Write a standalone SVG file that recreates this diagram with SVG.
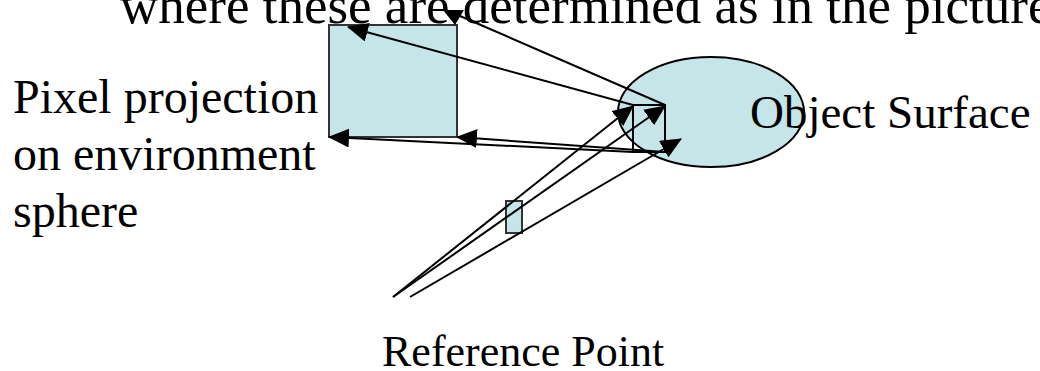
<svg xmlns="http://www.w3.org/2000/svg" width="1040" height="371" viewBox="0 0 1040 371">
<style>
.t{font-family:"Liberation Serif","Times New Roman",serif;font-size:47px;fill:#000}
.shape{fill:#C5E5E9;stroke:#333;stroke-width:2}
.c{stroke:#000;stroke-width:2;fill:none;marker-end:url(#ah)}
.p{stroke:#000;stroke-width:2;fill:none}
</style>
<defs>
<marker id="ah" viewBox="0 0 21 19" refX="20" refY="9.5" markerWidth="21" markerHeight="19" markerUnits="userSpaceOnUse" orient="auto">
<path d="M0,0 L21,9.5 L0,19 Z" fill="#000"/>
</marker>
</defs>
<rect width="1040" height="371" fill="#fff"/>
<g id="title"><text class="t" x="120" y="23" style="font-size:53px">where these are determined as in the picture</text></g>
<g id="object-surface"><ellipse class="shape" cx="711" cy="112" rx="93" ry="55" style="stroke:#000"/><text class="t" x="750" y="128">Object Surface</text></g>
<g id="surface-patch"><rect x="633" y="105" width="32" height="47" fill="none" stroke="#000" stroke-width="2"/></g>
<g id="pixel-projection"><rect class="shape" x="329" y="25" width="128" height="112"/></g>
<g id="pixel-label"><text class="t" x="13" y="113" style="font-size:48px">Pixel projection</text><text class="t" x="13" y="170" style="font-size:48px">on environment</text><text class="t" x="13" y="227" style="font-size:48px">sphere</text></g>
<g id="pixel"><rect class="shape" x="506" y="201" width="16" height="32"/></g>
<g id="reference-label"><text class="t" x="382" y="366" style="font-size:44px">Reference Point</text></g>
<g id="connectors">
<line class="c" x1="393" y1="297" x2="633" y2="106"/>
<line class="c" x1="393" y1="297" x2="665" y2="106"/>
<line class="c" x1="410" y1="297" x2="681" y2="139"/>
<line class="c" x1="633" y1="105" x2="348" y2="27"/>
<line class="p" x1="665" y1="105" x2="460" y2="16"/>
<path d="M443,10 L464,10 L455,25 Z" fill="#000"/>
<line class="c" x1="633" y1="152" x2="329" y2="137"/>
<line class="c" x1="665" y1="152" x2="457" y2="137"/>
</g>
</svg>
